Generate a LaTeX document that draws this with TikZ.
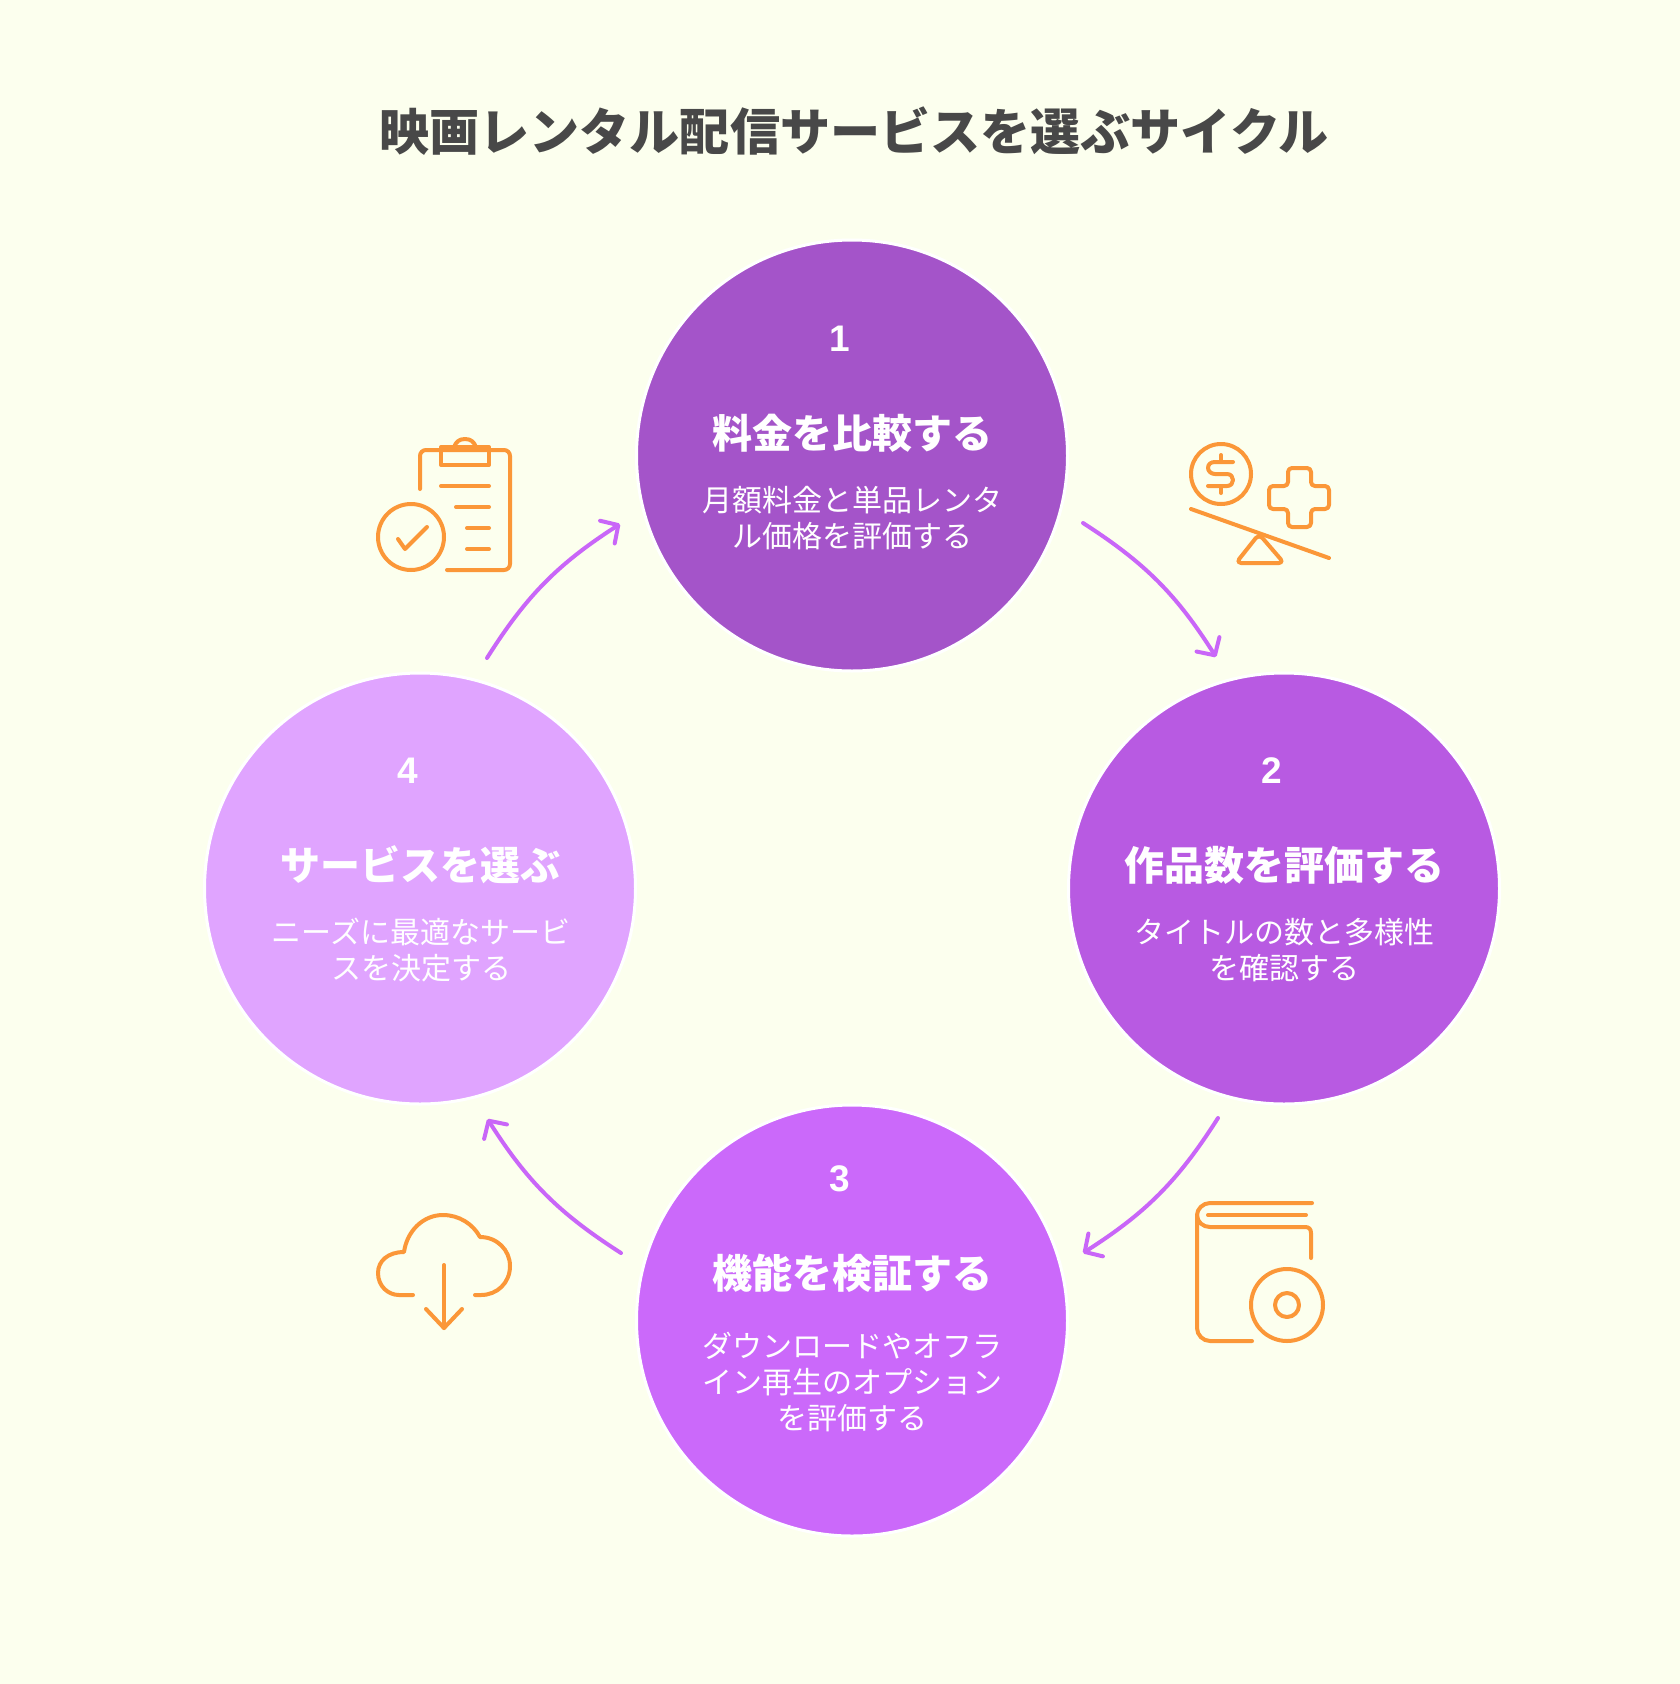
\documentclass[tikz,border=0pt]{standalone}
\usepackage{fontspec}
\setmainfont{Noto Sans CJK JP}
\newfontfamily\digitfont{Liberation Sans}
\usetikzlibrary{arrows.meta,calc}
\definecolor{bgc}{HTML}{FCFFEE}
\definecolor{titlec}{HTML}{484848}
\definecolor{orangec}{HTML}{FB9738}
\definecolor{flowc}{HTML}{C966F8}
\definecolor{cA}{HTML}{A454C9}
\definecolor{cB}{HTML}{B85AE2}
\definecolor{cC}{HTML}{CB69FA}
\definecolor{cD}{HTML}{E0A4FF}
\tikzset{
  disc/.style={circle,draw=white,line width=3pt,minimum size=431pt,inner sep=0pt,outer sep=0pt},
  numtxt/.style={text=white,font=\digitfont\bfseries\fontsize{37}{37}\selectfont,inner sep=0pt},
  headtxt/.style={text=white,font=\fontsize{40}{48}\selectfont\bfseries,inner sep=0pt},
  bodytxt/.style={text=white,align=center,font=\fontsize{30}{36}\selectfont,inner sep=0pt},
  flow/.style={draw=flowc,line width=4pt,line cap=round,line join=round,-{Straight Barb[length=13pt,width=27pt,line width=4pt,round]}},
  ico/.style={draw=orangec,line width=4pt,line cap=round,line join=round},
}
\begin{document}
\begin{tikzpicture}[x=1pt,y=-1pt]
\fill[bgc] (0,0) rectangle (1680,1684);
\useasboundingbox (0,0) rectangle (1680,1684);
\node[text=titlec,font=\fontsize{50.1}{60}\selectfont\bfseries,inner sep=0pt] (title) at (854,131) {映画レンタル配信サービスを選ぶサイクル};
% circles
\node[disc,fill=cA] (n1) at (852,455.5) {};
\node[disc,fill=cB] (n2) at (1284,888.5) {};
\node[disc,fill=cC] (n3) at (852,1320.5) {};
\node[disc,fill=cD] (n4) at (420,888.5) {};
% texts
\node[numtxt] (num1) at (840,339) {1};
\node[headtxt] (head1) at (852,433) {料金を比較する};
\node[bodytxt] (body1) at (852,518) {月額料金と単品レンタ\\ル価格を評価する};
\node[numtxt] (num2) at (1272,771) {2};
\node[headtxt] (head2) at (1284,865) {作品数を評価する};
\node[bodytxt] (body2) at (1284,950) {タイトルの数と多様性\\を確認する};
\node[numtxt] (num3) at (840,1179) {3};
\node[headtxt] (head3) at (852,1273) {機能を検証する};
\node[bodytxt] (body3) at (852,1382) {ダウンロードやオフラ\\イン再生のオプション\\を評価する};
\node[numtxt] (num4) at (408,771) {4};
\node[headtxt] (head4) at (420,865) {サービスを選ぶ};
\node[bodytxt] (body4) at (421,950) {ニーズに最適なサービ\\スを決定する};
% connectors
\coordinate (s12) at (1083,523); \coordinate (e12) at (1216,657);
\coordinate (s23) at (1218,1118); \coordinate (e23) at (1083,1253);
\coordinate (s34) at (621,1253); \coordinate (e34) at (487.5,1119);
\coordinate (s41) at (487,658); \coordinate (e41) at (620,524);
\draw[flow] (s12) to[bend left=12.5] (e12);
\draw[flow] (s23) to[bend left=12.5] (e23);
\draw[flow] (s34) to[bend left=12.5] (e34);
\draw[flow] (s41) to[bend left=12.5] (e41);
% icon: clipboard
\draw[ico,rounded corners=6pt] (420,489) -- (420,450) -- (510,450) -- (510,570) -- (447,570);
\draw[ico] (441,447) rectangle (489,465);
\draw[ico] (454,447) .. controls (456,442) and (459,439) .. (465,439) .. controls (471,439) and (474,442) .. (476,447);
\draw[ico] (441,486) -- (489,486);
\draw[ico] (456,507) -- (489,507);
\draw[ico] (467,528) -- (489,528);
\draw[ico] (467,549) -- (489,549);
\draw[ico] (411,537) circle[radius=33];
\draw[ico] (398,539) -- (405,549) -- (427,527);
% icon: balance
\draw[ico] (1221,474) circle[radius=30];
\draw[ico] (1221,455) -- (1221,460);
\draw[ico] (1221,488) -- (1221,493);
\draw[ico] (1233,462) -- (1215,462) .. controls (1211,462) and (1208,464) .. (1208,468) .. controls (1208,471) and (1211,474) .. (1215,474) -- (1227,474) .. controls (1231,474) and (1233,477) .. (1233,480) .. controls (1233,483) and (1231,486) .. (1227,486) -- (1208,486);
\draw[ico,rounded corners=4pt] (1288,468) -- (1311,468) -- (1311,486) -- (1329,486) -- (1329,509) -- (1311,509) -- (1311,527) -- (1288,527) -- (1288,509) -- (1269,509) -- (1269,486) -- (1288,486) -- cycle;
\draw[ico] (1191,509) -- (1329,558);
\draw[ico,rounded corners=5pt] (1259,534) -- (1236,563) -- (1284,563) -- cycle;
% icon: book and disc
\draw[ico] (1312,1203) -- (1210,1203) .. controls (1203,1203) and (1197,1209) .. (1197,1215) -- (1197,1328) .. controls (1197,1335) and (1203,1341) .. (1210,1341) -- (1252,1341);
\draw[ico] (1197,1215) .. controls (1197,1222) and (1203,1227) .. (1210,1227) -- (1305,1227) .. controls (1309,1227) and (1311,1229) .. (1311,1233) -- (1311,1258);
\draw[ico] (1208,1215) -- (1306,1215);
\draw[ico] (1287,1305) circle[radius=36];
\draw[ico] (1287,1305) circle[radius=12];
% icon: cloud
\draw[ico] (413,1295) -- (399,1295) .. controls (388,1295) and (378,1286) .. (378,1273) .. controls (378,1261) and (388,1252) .. (404,1252) .. controls (407,1231) and (423,1215) .. (443,1215) .. controls (459,1215) and (473,1224) .. (480,1237) .. controls (497,1237) and (510,1250) .. (510,1266) .. controls (510,1283) and (497,1295) .. (481,1295) -- (475,1295);
\draw[ico] (444,1265) -- (444,1328);
\draw[ico] (426,1309) -- (444,1328) -- (462,1309);
\end{tikzpicture}
\end{document}
